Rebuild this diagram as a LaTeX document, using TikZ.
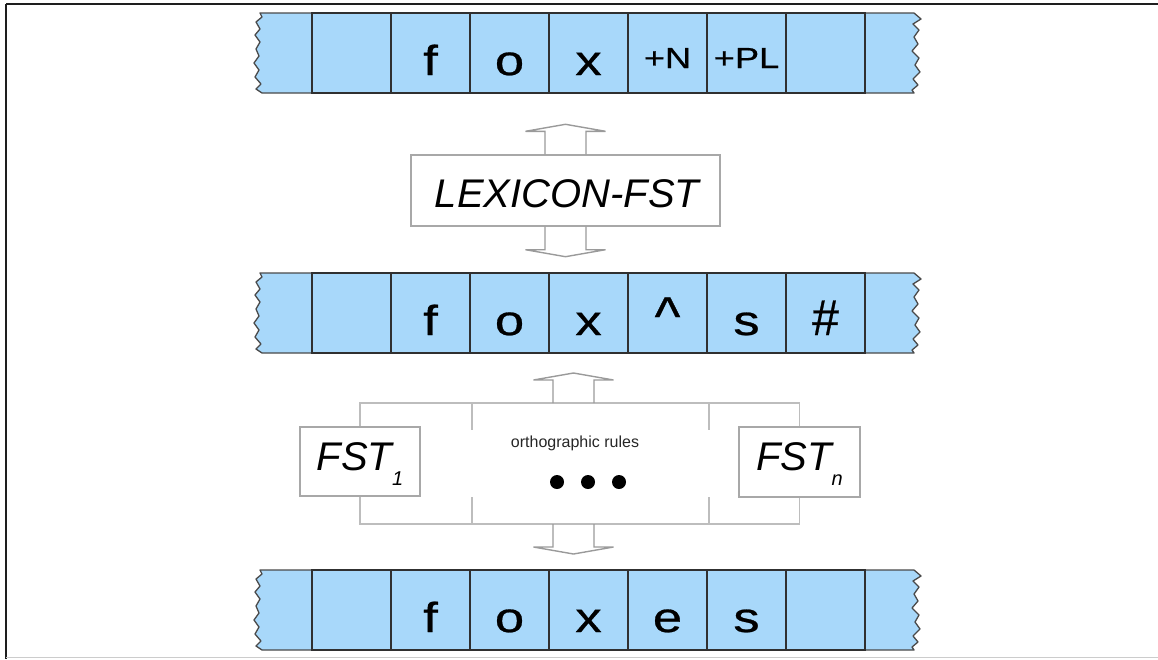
\documentclass[tikz,border=0pt]{standalone}
\usepackage{fontspec}
\usepackage{graphicx}
\setmainfont{Liberation Sans}
\newfontfamily\tapefont[FakeBold=0.6]{Liberation Sans}
\usetikzlibrary{calc}
\definecolor{tapefill}{HTML}{A8D8FA}
\definecolor{tapeedge}{HTML}{4A4A4A}
\definecolor{cellline}{HTML}{303030}
\definecolor{boxline}{HTML}{A8A8A8}
\definecolor{arrowline}{HTML}{9A9A9A}
\definecolor{bracketline}{HTML}{BDBDBD}
\definecolor{frameline}{HTML}{1E1E1E}
\newcommand\wide[1]{\scalebox{1.25}[1]{#1}}
\tikzset{
  cell/.style={draw=cellline, line width=1.6pt, minimum width=79pt, minimum height=80pt, inner sep=0pt, fill=tapefill},
  tapeoutline/.style={draw=tapeedge, line width=1.3pt, fill=tapefill, line join=round},
  bigtxt/.style={anchor=base, inner sep=0pt, font=\tapefont\fontsize{42}{42}\selectfont},
  smalltxt/.style={anchor=base, inner sep=0pt, font=\tapefont\fontsize{29}{29}\selectfont},
  fstbox/.style={draw=boxline, line width=1.4pt, fill=white, inner sep=0pt},
  boxtxt/.style={anchor=base, inner sep=0pt, font=\fontsize{40}{40}\selectfont\itshape},
  hollow/.style={draw=arrowline, line width=1.4pt, line join=miter},
  bracket/.style={draw=bracketline, line width=1.4pt},
  dotnode/.style={circle, fill=black, inner sep=0pt, minimum size=14pt},
  notetxt/.style={anchor=base, inner sep=0pt, font=\fontsize{16}{16}\selectfont, text=black!85}
}
\newcommand\taperow[2]{%
  \path[tapeoutline] (260,#1) -- (914,#1)
    \foreach \dx/\dy in {7/6,-1/11,5/17,0/24,4/31,-2/38,5/45,1/52,6/59,-1/66,4/72,-2/77,0/80} { -- (914+\dx,#1+\dy) }
    -- (262,#1+80)
    \foreach \dx/\dy in {-6/76,-1/71,-7/64,-3/57,-8/50,-3/43,-6/36,-2/29,-7/22,-2/16,-6/9,0/4} { -- (262+\dx,#1+\dy) }
    -- cycle;
  \foreach \i in {1,...,7} { \node[cell] (#2\i) at ({272.5+79*\i},#1+40) {}; }
}
\newcommand\hollowarrow[2]{% base coordinate, direction (-1 up, 1 down)
  \draw[hollow] ($(#1)+(-20.5,0)$) -- ($(#1)+(-20.5,#2*23)$) -- ($(#1)+(-40,#2*23)$)
    -- ($(#1)+(0,#2*30)$) -- ($(#1)+(40,#2*23)$) -- ($(#1)+(20.5,#2*23)$) -- ($(#1)+(20.5,0)$);
}
\begin{document}
\begin{tikzpicture}[x=1pt,y=-1pt]
\useasboundingbox (0,0) rectangle (1158,659);
% frame
\draw[frameline, line width=2pt] (6,4) -- (1158,4);
\draw[frameline, line width=1.6pt] (6,4) -- (6,659);
\draw[black!20, line width=1pt] (6,657.5) -- (1158,657.5);

% tapes
\taperow{13}{ra}
\taperow{273}{rb}
\taperow{570}{rc}
\coordinate (ya) at (0,75);
\coordinate (yas) at (0,68);
\coordinate (yb) at (0,335);
\coordinate (yc) at (0,632);

% row 1 text
\node[bigtxt] (raf) at (ra2 |- ya) {\wide{f}};
\node[bigtxt] (rao) at (ra3 |- ya) {\wide{o}};
\node[bigtxt] (rax) at (ra4 |- ya) {\wide{x}};
\node[smalltxt] (ran) at (ra5 |- yas) {\wide{+N}};
\node[smalltxt] (rapl) at (ra6 |- yas) {\wide{+PL}};

% row 2 text
\node[bigtxt] (rbf) at (rb2 |- yb) {\wide{f}};
\node[bigtxt] (rbo) at (rb3 |- yb) {\wide{o}};
\node[bigtxt] (rbx) at (rb4 |- yb) {\wide{x}};
\node[bigtxt] (rbc) at (rb5 |- yb) {\scalebox{1.3}[1.3]{\textasciicircum}};
\node[bigtxt] (rbs) at (rb6 |- yb) {\wide{s}};
\node[bigtxt] (rbh) at (rb7 |- yb) {\scalebox{1.15}[1.2]{\#}};

% row 3 text
\node[bigtxt] (rcf) at (rc2 |- yc) {\wide{f}};
\node[bigtxt] (rco) at (rc3 |- yc) {\wide{o}};
\node[bigtxt] (rcx) at (rc4 |- yc) {\wide{x}};
\node[bigtxt] (rce) at (rc5 |- yc) {\wide{e}};
\node[bigtxt] (rcs) at (rc6 |- yc) {\wide{s}};

% lexicon box
\node[fstbox, minimum width=309pt, minimum height=71pt] (lex) at (565.5,190.5) {};
\node[boxtxt] (lext) at (567,207) {LEXICON-FST};
\hollowarrow{lex.north}{-1}
\hollowarrow{lex.south}{1}

% orthographic group
\coordinate (otop) at (573.5,403);
\coordinate (obot) at (573.5,524);
\node[fstbox, minimum width=120pt, minimum height=69pt] (fst1) at (360,461.5) {};
\node[fstbox, minimum width=121pt, minimum height=70pt] (fstn) at (799.5,462) {};
\draw[bracket] (fst1.north) -- (fst1.north |- otop) -- (fstn.north |- otop) -- (fstn.north);
\draw[bracket] (fst1.south) -- (fst1.south |- obot) -- (fstn.south |- obot) -- (fstn.south);
\draw[bracket] (472,403) -- (472,430);
\draw[bracket] (472,497) -- (472,524);
\draw[bracket] (709,403) -- (709,430);
\draw[bracket] (709,497) -- (709,524);
\node[boxtxt] (fst1t) at (360,470) {FST\raisebox{-15pt}{\fontsize{20}{20}\selectfont 1}};
\node[boxtxt] (fstnt) at (799.5,470) {FST\raisebox{-15pt}{\fontsize{20}{20}\selectfont n}};
\node[notetxt] (ortho) at (575,447) {orthographic rules};
\node[dotnode] (d1) at (557,482) {};
\node[dotnode] (d2) at (588,482) {};
\node[dotnode] (d3) at (619,482) {};
\hollowarrow{otop}{-1}
\hollowarrow{obot}{1}
\end{tikzpicture}
\end{document}
